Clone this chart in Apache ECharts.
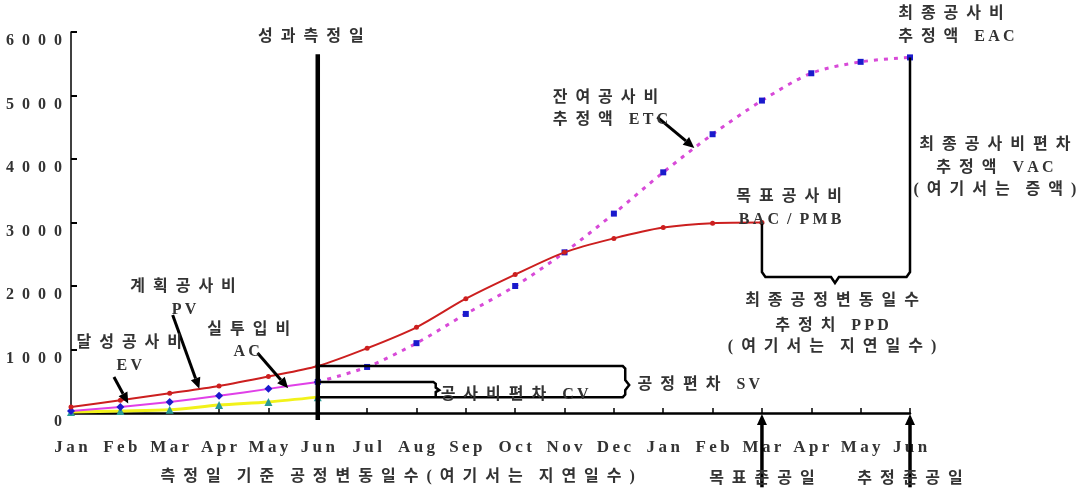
<!DOCTYPE html>
<html><head><meta charset="utf-8">
<script src="https://cdn.jsdelivr.net/npm/echarts@6/dist/echarts.min.js"></script>
<style>html,body{margin:0;padding:0;background:#fff}#c{width:1083px;height:492px}</style>
</head><body><div id="c"></div>
<script>
// ---- data ----
const months = ['Jan','Feb','Mar','Apr','May','Jun','Jul','Aug','Sep','Oct','Nov','Dec','Jan','Feb','Mar','Apr','May','Jun'];
const yMin = 0, yMax = 6000, yStep = 1000;
const pvBac = [95,200,310,425,575,740,1020,1350,1800,2180,2530,2750,2920,2990,3000];
const acValues = [30,95,175,270,380,490];
const evValues = [15,30,50,125,175,250];
const etcEac = [null,null,null,null,null,490,725,1100,1560,2000,2530,3140,3790,4390,4920,5350,5530,5600];

const FONT = "'Liberation Serif','Noto Sans CJK KR',serif";
const isL = c => /[A-Za-z0-9]/.test(c);
const sp = s => {
  let out = '', prev = '';
  for (const c of Array.from(s)) {
    if (c === ' ') { out += '\u2002\u2002'; prev = ' '; continue; }
    if (prev && prev !== ' ') out += (isL(prev) && isL(c)) ? '\u2009' : '\u2002';
    out += c; prev = c;
  }
  return out;
};

const chart = echarts.init(document.getElementById('c'), null, {renderer:'canvas'});
chart.setOption({
  animation:false,
  backgroundColor:'#fff',
  grid:{left:71, right:173, top:32, bottom:79, containLabel:false},
  xAxis:{
    type:'category', data:months, boundaryGap:false,
    axisLine:{lineStyle:{color:'#000', width:2.5}},
    axisTick:{inside:true, length:5, alignWithLabel:true, lineStyle:{color:'#000', width:1.5}},
    axisLabel:{interval:0, margin:26, color:'#333', fontFamily:FONT, fontSize:17, fontWeight:'bold', formatter:v => sp(v)},
    splitLine:{show:false}
  },
  yAxis:{
    type:'value', min:yMin, max:yMax, interval:yStep,
    axisLine:{show:true, lineStyle:{color:'#000', width:1.5}},
    axisTick:{show:true, inside:true, length:6, lineStyle:{color:'#000', width:2}},
    axisLabel:{margin:9, color:'#333', fontFamily:FONT, fontSize:16, fontWeight:'bold', verticalAlign:'top', lineHeight:18,
      formatter:v => Array.from(String(v)).join('\u2002')},
    splitLine:{show:false}
  },
  series:[
    {name:'EV', type:'line', data:evValues, smooth:0.3, symbol:'triangle', symbolSize:8,
     lineStyle:{color:'#f2f21a', width:3}, itemStyle:{color:'#2a9a96'}, z:3},
    {name:'AC', type:'line', data:acValues, smooth:0.3, symbol:'diamond', symbolSize:8,
     lineStyle:{color:'#e040e8', width:2}, itemStyle:{color:'#1a1acc'}, z:4},
    {name:'ETC', type:'line', data:etcEac, smooth:0.3, symbol:'rect', symbolSize:6, connectNulls:false,
     lineStyle:{color:'#d84ad8', width:3, type:[4,6]}, itemStyle:{color:'#1a1acc'}, z:4},
    {name:'PV', type:'line', data:pvBac, smooth:0.3, symbol:'circle', symbolSize:5,
     lineStyle:{color:'#cc1f1f', width:2}, itemStyle:{color:'#cc1f1f'}, z:5}
  ]
});

// ---- annotations placed through the chart's own scales ----
const a = chart.convertToPixel({xAxisIndex:0, yAxisIndex:0}, [0, 0]);
const b = chart.convertToPixel({xAxisIndex:0, yAxisIndex:0}, [1, 1000]);
const P = (i, v) => [a[0] + (b[0]-a[0]) * i, a[1] + (b[1]-a[1]) * v / 1000];
const g = [];
const txt = (i, v, s, align, size) => {
  const p = P(i, v);
  g.push({type:'text', x:p[0], y:p[1], z:100,
    style:{text:sp(s), fontFamily:FONT, fontSize:size||16, fontWeight:'bold', fill:'#333', align:align||'center', verticalAlign:'middle'}});
};
const poly = (pts, w) => g.push({type:'polyline', z:90, shape:{points:pts.map(q => P(q[0], q[1]))},
  style:{stroke:'#000', lineWidth:w||2.5, fill:null}});
const arrow = (i1, v1, i2, v2, w) => {
  const p1 = P(i1, v1), p2 = P(i2, v2);
  const dx = p2[0]-p1[0], dy = p2[1]-p1[1], L = Math.hypot(dx, dy);
  const ux = dx/L, uy = dy/L, hl = 11, hw = 5;
  const bx = p2[0]-ux*hl, by = p2[1]-uy*hl;
  g.push({type:'line', z:95, shape:{x1:p1[0], y1:p1[1], x2:bx, y2:by}, style:{stroke:'#000', lineWidth:w||3}});
  g.push({type:'polygon', z:95, shape:{points:[[p2[0],p2[1]],[bx-uy*hw,by+ux*hw],[bx+uy*hw,by-ux*hw]]}, style:{fill:'#000'}});
};

const last = etcEac.length - 1;
const bacIdx = pvBac.length - 1;
// measurement date line
poly([[5, 5650], [5, -110]], 4.5);
txt(4.86, 5920, '성과측정일');

// SV and CV brackets
poly([[5, pvBac[5]], [11.18, pvBac[5]], [11.23, pvBac[5]-40], [11.23, 520], [11.31, 441], [11.23, 360], [11.23, evValues[5]+40], [11.18, evValues[5]], [5, evValues[5]]], 2.5);
poly([[5, acValues[5]], [7.34, acValues[5]], [7.39, acValues[5]-30], [7.39, 400], [7.46, 360], [7.39, 330], [7.39, evValues[5]]], 2.5);
txt(11.48, 441, '공정편차 SV', 'left');
txt(7.49, 280, '공사비편차 CV', 'left');

// PV / EV / AC labels
txt(2.27, 1984, '계획공사비');
txt(2.29, 1622, 'PV');
arrow(2.06, 1543, 2.6, 380);
txt(1.18, 1102, '달성공사비');
txt(1.18, 740, 'EV');
arrow(0.87, 567, 1.16, 150);
txt(3.6, 1307, '실투입비');
txt(3.56, 961, 'AC');
arrow(3.78, 945, 4.4, 390);

// ETC
txt(9.76, 4961, '잔여공사비', 'left');
txt(9.76, 4614, '추정액 ETC', 'left');
arrow(11.88, 4661, 12.63, 4173);

// BAC
txt(14.55, 3402, '목표공사비');
txt(14.57, 3039, 'BAC/PMB');

// PPD bracket from BAC to EAC
poly([[bacIdx, pvBac[bacIdx]], [bacIdx, 2220], [bacIdx+0.07, 2142], [15.4, 2142], [15.48, 2047], [15.56, 2142], [last-0.07, 2142], [last, 2220], [last, etcEac[last]]], 2.5);
txt(15.42, 1764, '최종공정변동일수');
txt(15.42, 1370, '추정치 PPD');
txt(15.42, 1039, '(여기서는 지연일수)');

// EAC / VAC
txt(16.76, 6283, '최종공사비', 'left');
txt(16.76, 5921, '추정액 EAC', 'left');
txt(18.72, 4220, '최종공사비편차');
txt(18.72, 3858, '추정액 VAC');
txt(18.72, 3512, '(여기서는 증액)');

// bottom notes and completion arrows
txt(6.62, -1000, '측정일 기준 공정변동일수(여기서는 지연일수)');
arrow(bacIdx, -1170, bacIdx, -15, 3.5);
arrow(last, -1170, last, -15, 3.5);
txt(bacIdx, -1030, '목표준공일');
txt(last, -1030, '추정준공일');

chart.setOption({graphic:{elements:g}});
</script>
</body></html>
